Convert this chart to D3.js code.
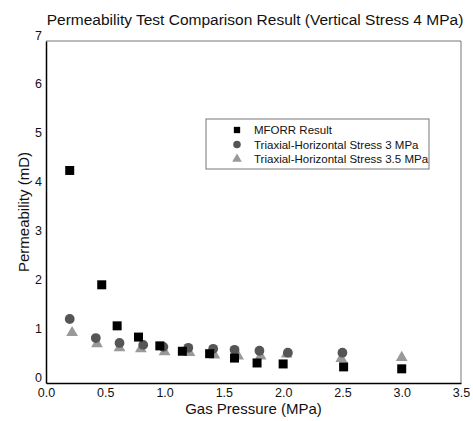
<!DOCTYPE html>
<html lang="en">
<head>
  <meta charset="utf-8">
  <title>Permeability Test Comparison</title>
  <script src="https://cdn.jsdelivr.net/npm/d3@7"></script>
  <style>
    body { margin: 0; background: #fff; }
    text { font-family: "Liberation Sans", Arial, sans-serif; fill: #111; }
  </style>
</head>
<body>
  <div id="chart"></div>
  <script>
    // data
    const mforrX = [0.2, 0.47, 0.6, 0.78, 0.96, 1.15, 1.38, 1.59, 1.78, 2.0, 2.51, 3.0]
    const mforrY = [4.35, 2.01, 1.17, 0.94, 0.76, 0.65, 0.6, 0.51, 0.41, 0.39, 0.33, 0.29]
    const tri3X = [0.2, 0.42, 0.62, 0.82, 0.99, 1.2, 1.41, 1.59, 1.8, 2.04, 2.5]
    const tri3Y = [1.31, 0.92, 0.82, 0.78, 0.74, 0.72, 0.7, 0.68, 0.66, 0.62, 0.62]
    const tri35X = [0.22, 0.43, 0.62, 0.8, 1.0, 1.21, 1.42, 1.62, 1.81, 2.03, 2.49, 3.0]
    const tri35Y = [1.03, 0.8, 0.72, 0.7, 0.64, 0.62, 0.57, 0.55, 0.55, 0.59, 0.5, 0.52]
    const xTicks = [0, 0.5, 1.0, 1.5, 2.0, 2.5, 3.0, 3.5]
    const yTicks = [0, 1, 2, 3, 4, 5, 6, 7]
    const seriesNames = ['MFORR Result', 'Triaxial-Horizontal Stress 3 MPa', 'Triaxial-Horizontal Stress 3.5 MPa']

    const width = 473
    const height = 421
    const margin = { top: 41, right: 12, bottom: 38, left: 46 }

    const svg = d3.select('#chart').append('svg')
      .attr('width', width)
      .attr('height', height)

    const x = d3.scaleLinear().domain([0, 3.5]).range([margin.left, width - margin.right])
    const y = d3.scaleLinear().domain([0, 7]).range([height - margin.bottom, margin.top])

    // frame: grey top/right, black left/bottom
    svg.append('path')
      .attr('d', `M${x(0)},${y(7)}H${x(3.5)}V${y(0)}`)
      .attr('fill', 'none').attr('stroke', '#777').attr('stroke-width', 1)

    const xAxis = d3.axisBottom(x).tickValues(xTicks).tickSize(0).tickPadding(5)
      .tickFormat(d3.format('.1f'))
    const yAxis = d3.axisLeft(y).tickValues(yTicks).tickSize(0).tickPadding(4)
      .tickFormat(d3.format('d'))

    const gx = svg.append('g')
      .attr('transform', `translate(0,${y(0)})`)
      .call(xAxis)
    gx.select('.domain').attr('stroke', '#000').attr('stroke-width', 1.5)
    gx.selectAll('text').style('font-size', '12.5px').attr('fill', '#111')

    const gy = svg.append('g')
      .attr('transform', `translate(${x(0)},0)`)
      .call(yAxis)
    gy.select('.domain').attr('stroke', '#000').attr('stroke-width', 1.5)
    gy.selectAll('text').style('font-size', '12.5px').attr('fill', '#111').attr('dy', '-0.15em')

    // title and axis titles
    svg.append('text')
      .attr('x', 255).attr('y', 25)
      .attr('text-anchor', 'middle')
      .style('font-size', '15.5px')
      .text('Permeability Test Comparison Result (Vertical Stress 4 MPa)')

    svg.append('text')
      .attr('x', (x(0) + x(3.5)) / 2).attr('y', 414)
      .attr('text-anchor', 'middle')
      .style('font-size', '15px')
      .text('Gas Pressure (MPa)')

    svg.append('text')
      .attr('transform', `translate(29,${(y(0) + y(7)) / 2}) rotate(-90)`)
      .attr('text-anchor', 'middle')
      .style('font-size', '15px')
      .text('Permeability (mD)')

    const sq = d3.symbol().type(d3.symbolSquare).size(81)
    const ci = d3.symbol().type(d3.symbolCircle).size(75)
    const tr = d3.symbol().type(d3.symbolTriangle).size(60)

    // draw order: triangles under circles, squares on top
    svg.append('g').selectAll('path')
      .data(tri35X.map((d, i) => [d, tri35Y[i]]))
      .join('path')
      .attr('d', tr)
      .attr('transform', d => `translate(${x(d[0])},${y(d[1])})`)
      .attr('fill', '#999')

    svg.append('g').selectAll('path')
      .data(tri3X.map((d, i) => [d, tri3Y[i]]))
      .join('path')
      .attr('d', ci)
      .attr('transform', d => `translate(${x(d[0])},${y(d[1])})`)
      .attr('fill', '#555')

    svg.append('g').selectAll('path')
      .data(mforrX.map((d, i) => [d, mforrY[i]]))
      .join('path')
      .attr('d', sq)
      .attr('transform', d => `translate(${x(d[0])},${y(d[1])})`)
      .attr('fill', '#000')

    // legend
    const legend = svg.append('g').attr('transform', 'translate(206,119)')
    legend.append('rect')
      .attr('width', 223).attr('height', 50)
      .attr('fill', '#fff').attr('stroke', '#777')
    const legSym = [d3.symbol().type(d3.symbolSquare).size(40), d3.symbol().type(d3.symbolCircle).size(45), d3.symbol().type(d3.symbolTriangle).size(40)]
    const legCol = ['#000', '#555', '#999']
    seriesNames.forEach((name, i) => {
      const row = legend.append('g').attr('transform', `translate(0,${11 + i * 14.5})`)
      row.append('path')
        .attr('d', legSym[i])
        .attr('transform', 'translate(31,0)')
        .attr('fill', legCol[i])
      row.append('text')
        .attr('x', 48).attr('y', 4)
        .style('font-size', '11.5px')
        .text(name)
    })
  </script>
</body>
</html>
